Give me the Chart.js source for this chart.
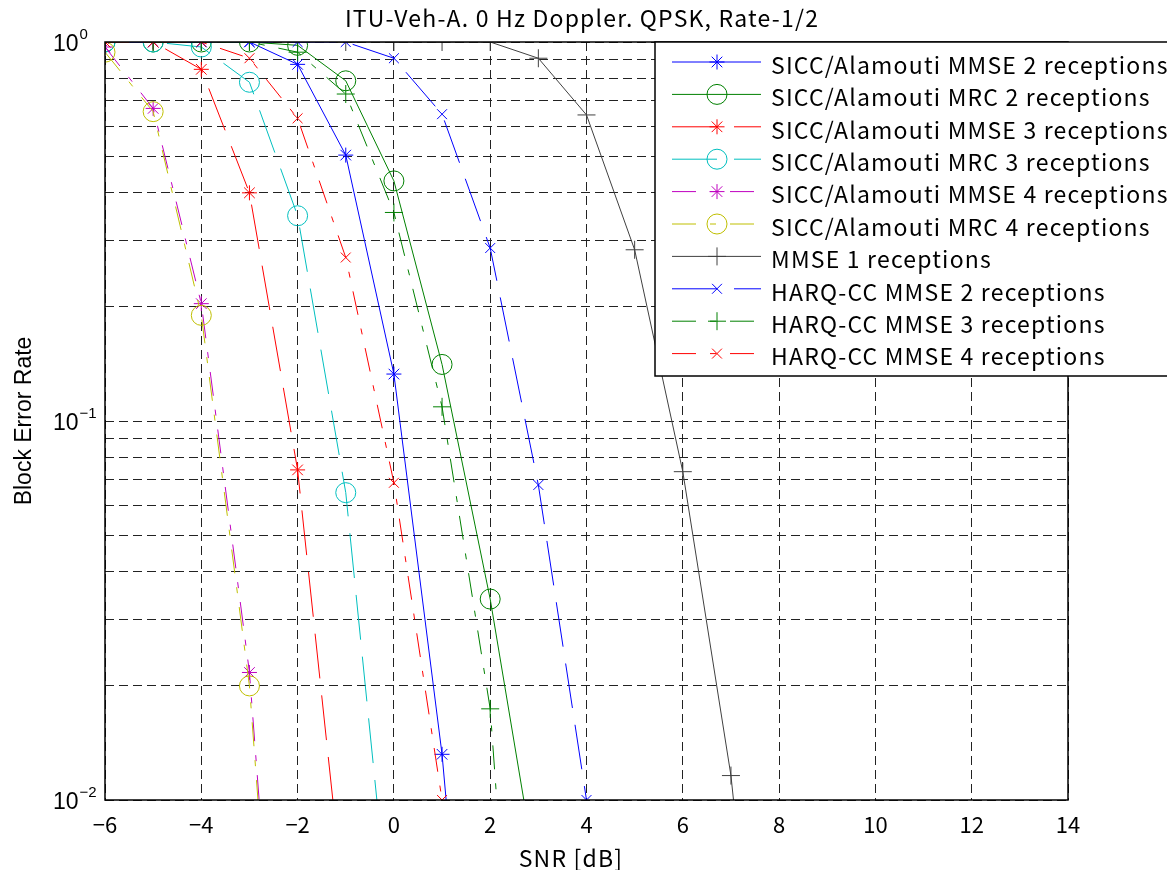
<!DOCTYPE html>
<html>
<head>
<meta charset="utf-8">
<script src="https://cdn.jsdelivr.net/npm/chart.js@4.4.1/dist/chart.umd.min.js"></script>
<style>
  html, body { margin: 0; padding: 0; background: #fff; }
  #wrap { width: 1167px; height: 870px; }
</style>
</head>
<body>
<div id="wrap"><canvas id="ber" width="1167" height="870"></canvas></div>
<script>
// SNR points (dB)
const snr = [-6, -5, -4, -3, -2, -1, 0, 1, 2, 3, 4, 5, 6, 7, 8];

// block error rate per curve (last value falls below the axis)
const siccMmse2 = [1, 1, 1, 1, 0.873, 0.503, 0.133, 0.0132, 0.0005];
const siccMrc2 = [1, 1, 1, 1, 0.98, 0.79, 0.43, 0.141, 0.0339, 0.0059];
const siccMmse3 = [1, 1, 0.847, 0.40, 0.0743, 0.0048];
const siccMrc3 = [1, 1, 0.97, 0.783, 0.348, 0.0647, 0.0036];
const siccMmse4 = [0.97, 0.668, 0.204, 0.0217, 0.00046];
const siccMrc4 = [0.94, 0.655, 0.19, 0.020, 0.0004];
const mmse1 = [1, 1, 1, 1, 1, 1, 1, 1, 1, 0.906, 0.642, 0.283, 0.0735, 0.0116, 0.0007];
const harqMmse2 = [1, 1, 1, 1, 1, 1, 0.906, 0.645, 0.286, 0.0678, 0.0100];
const harqMmse3 = [1, 1, 1, 1, 0.94, 0.729, 0.355, 0.109, 0.0174, 0.0003];
const harqMmse4 = [1, 1, 1, 0.906, 0.629, 0.27, 0.0687, 0.0100];

const seriesLabels = [
  'SICC/Alamouti MMSE 2 receptions',
  'SICC/Alamouti MRC 2 receptions',
  'SICC/Alamouti MMSE 3 receptions',
  'SICC/Alamouti MRC 3 receptions',
  'SICC/Alamouti MMSE 4 receptions',
  'SICC/Alamouti MRC 4 receptions',
  'MMSE 1 receptions',
  'HARQ-CC MMSE 2 receptions',
  'HARQ-CC MMSE 3 receptions',
  'HARQ-CC MMSE 4 receptions'
];
const seriesValues = [siccMmse2, siccMrc2, siccMmse3, siccMrc3, siccMmse4, siccMrc4,
  mmse1, harqMmse2, harqMmse3, harqMmse4];

// axis ticks
const xTicks = [-6, -4, -2, 0, 2, 4, 6, 8, 10, 12, 14];
const yGrid = [0.01, 0.02, 0.03, 0.04, 0.05, 0.06, 0.07, 0.08, 0.09,
  0.1, 0.2, 0.3, 0.4, 0.5, 0.6, 0.7, 0.8, 0.9, 1];
const yLabels = [[1, '0'], [0.1, '\u22121'], [0.01, '\u22122']];

// matlab-ish styles
const DASH = [45, 17];
const DASH_DOT = [24, 14, 6, 14];
const colors = ['#0000ff', '#008000', '#ff0000', '#00bfbf', '#bf00bf', '#bfbf00',
  '#404040', '#0000ff', '#008000', '#ff0000'];
const markers = ['star', 'circle', 'star', 'circle', 'star', 'circle',
  'cross', 'crossRot', 'cross', 'crossRot'];
const markerSize = [7.5, 10, 7.5, 10, 7.5, 10, 9, 7, 9, 7];
const dashes = [[], [], DASH, DASH, DASH_DOT, DASH_DOT, [], DASH, DASH_DOT, DASH_DOT];

const JP = '"Noto Sans CJK JP", "Noto Sans", sans-serif';
const HV = '"Liberation Sans", Arial, sans-serif';

const datasets = seriesValues.map((vals, i) => ({
  label: seriesLabels[i],
  data: vals.map((v, k) => ({ x: snr[k], y: v })),
  borderColor: colors[i],
  borderWidth: 1,
  borderDash: dashes[i],
  pointStyle: markers[i],
  pointRadius: markerSize[i],
  pointHoverRadius: markerSize[i],
  pointBorderColor: colors[i],
  pointBackgroundColor: 'rgba(0,0,0,0)',
  pointBorderWidth: 1,
  tension: 0,
  fill: false,
  order: seriesValues.length - i
}));

function drawMarker(ctx, style, x, y, r) {
  ctx.beginPath();
  if (style === 'circle') {
    ctx.arc(x, y, r, 0, Math.PI * 2);
  }
  if (style === 'cross' || style === 'star') {
    ctx.moveTo(x - r, y); ctx.lineTo(x + r, y);
    ctx.moveTo(x, y - r); ctx.lineTo(x, y + r);
  }
  if (style === 'crossRot' || style === 'star') {
    const d = r * Math.SQRT1_2;
    ctx.moveTo(x - d, y - d); ctx.lineTo(x + d, y + d);
    ctx.moveTo(x - d, y + d); ctx.lineTo(x + d, y - d);
  }
  ctx.stroke();
}

const decorations = {
  id: 'decorations',
  afterDraw(chart) {
    const { ctx, chartArea: a, scales } = chart;
    ctx.save();

    // axes box
    ctx.strokeStyle = '#000';
    ctx.lineWidth = 1.5;
    ctx.strokeRect(a.left, a.top, a.right - a.left, a.bottom - a.top);

    // title, wide gothic look
    ctx.fillStyle = '#000';
    ctx.font = '23px ' + JP;
    ctx.letterSpacing = '1.2px';
    ctx.textAlign = 'center';
    ctx.textBaseline = 'middle';
    ctx.fillText('ITU-Veh-A. 0 Hz Doppler. QPSK, Rate-1/2', 582, 18);

    // x title
    ctx.fillText('SNR [dB]', 571, 858);
    ctx.letterSpacing = '0px';

    // y title
    ctx.save();
    ctx.translate(25, (a.top + a.bottom) / 2);
    ctx.rotate(-Math.PI / 2);
    ctx.font = '23px ' + HV;
    ctx.fillText('Block Error Rate', 0, 0);
    ctx.restore();

    // y tick labels 10^k
    ctx.textAlign = 'left';
    yLabels.forEach(([v, exp]) => {
      const y = scales.y.getPixelForValue(v);
      ctx.font = '23px ' + HV;
      ctx.fillText('10', 53, y + 3);
      const w = ctx.measureText('10').width;
      ctx.font = '15px ' + HV;
      ctx.fillText(exp, 53 + w + 1, y - 7);
    });

    // legend
    const bx = 655, by = 42, bw = 540, bh = 334;
    ctx.fillStyle = '#fff';
    ctx.fillRect(bx, by, bw, bh);
    ctx.strokeStyle = '#000';
    ctx.lineWidth = 1.5;
    ctx.strokeRect(bx, by, bw, bh);
    seriesLabels.forEach((label, i) => {
      const y = by + 20 + i * 32.4;
      ctx.strokeStyle = colors[i];
      ctx.lineWidth = 1;
      ctx.setLineDash(dashes[i]);
      ctx.beginPath();
      ctx.moveTo(672, y);
      ctx.lineTo(761, y);
      ctx.stroke();
      ctx.setLineDash([]);
      drawMarker(ctx, markers[i], 717, y, markerSize[i]);
      ctx.fillStyle = '#000';
      ctx.font = '23px ' + JP;
      ctx.letterSpacing = '1.2px';
      ctx.textAlign = 'left';
      ctx.textBaseline = 'middle';
      ctx.fillText(label, 771, y + 3);
      ctx.letterSpacing = '0px';
    });
    ctx.restore();
  }
};

new Chart(document.getElementById('ber'), {
  type: 'line',
  data: { datasets },
  options: {
    responsive: false,
    animation: false,
    layout: { padding: { left: 0, right: 99, top: 42, bottom: 0 } },
    plugins: {
      legend: { display: false },
      title: { display: false },
      tooltip: { enabled: false }
    },
    scales: {
      x: {
        type: 'linear',
        min: -6,
        max: 14,
        afterBuildTicks: s => { s.ticks = xTicks.map(v => ({ value: v })); },
        afterFit: s => { s.height = 70; },
        ticks: {
          padding: 11,
          color: '#000',
          font: { family: JP, size: 22 },
          callback: v => (v < 0 ? '\u2212' + Math.abs(v) : String(v))
        },
        grid: { color: '#222', lineWidth: 1, drawTicks: false },
        border: { display: false, dash: [9, 5] }
      },
      y: {
        type: 'logarithmic',
        min: 0.01,
        max: 1,
        afterBuildTicks: s => { s.ticks = yGrid.map(v => ({ value: v })); },
        afterFit: s => { s.width = 105; },
        ticks: { display: false },
        grid: { color: '#222', lineWidth: 1, drawTicks: false },
        border: { display: false, dash: [9, 5] }
      }
    }
  },
  plugins: [decorations]
});
</script>
</body>
</html>
